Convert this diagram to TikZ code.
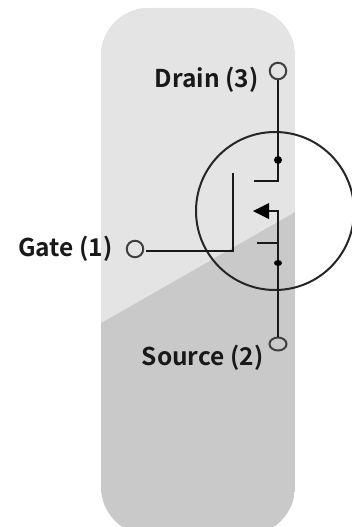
\documentclass[tikz,border=0pt]{standalone}
\usetikzlibrary{shapes.geometric}
\usepackage{fontspec}
\setmainfont{Noto Sans CJK SC}[BoldFont={Noto Sans CJK SC Bold}]
\definecolor{upg}{HTML}{E4E4E4}
\definecolor{lowg}{HTML}{C9C9C9}
\begin{document}
\begin{tikzpicture}[x=1pt,y=-1pt,
  wire/.style={line width=2.3pt,draw=black!90,line cap=butt},
  term/.style={circle,draw=black!75,line width=2pt,inner sep=0pt,minimum size=16.5pt},
  lab/.style={font=\fontsize{24.5}{28}\selectfont\bfseries,text=black!90,inner sep=0pt,anchor=base east},
  junction/.style={ellipse,fill=black,inner sep=0pt,minimum width=8pt,minimum height=8pt}]
\useasboundingbox (0,0) rectangle (351,527);
\begin{scope}
  \clip[rounded corners=48pt] (101,8) rectangle (295,535);
  \fill[lowg] (101,8) rectangle (295,535);
  \fill[upg] (101,8) -- (295,8) -- (295,212) -- (101,323) -- cycle;
\end{scope}
\node[draw=black!85,line width=2pt,circle,inner sep=0pt,minimum size=158pt] (body) at (275,211) {};
\node[term] (d) at (278,71) {};
\node[term] (g) at (135,249) {};
\node[term,ellipse,minimum width=17pt,minimum height=13pt] (s) at (278,344) {};
\coordinate (dc) at (278,181);
\coordinate (de) at (254,181);
\coordinate (sc) at (278,211);
\coordinate (se) at (262,211);
\coordinate (gc) at (233,251);
\coordinate (gt) at (233,173);
\coordinate (gl) at (146,251);
\coordinate (st) at (278,243);
\coordinate (ste) at (257,243);
\draw[wire] (d) -- (dc) -- (de);
\draw[wire] (s) -- (sc) -- (se);
\draw[wire] (gl) -- (gc) -- (gt);
\draw[wire] (st) -- (ste);
\node[junction] (j1) at (278,160) {};
\node[junction,minimum height=6pt] (j2) at (278,263) {};
\fill[black] (253,211) -- (269,203) -- (269,219) -- cycle;
\node[lab] (dl) at (258.5,87) {Drain (3)};
\node[lab] (gla) at (112.5,256) {Gate (1)};
\node[lab] (sl) at (263.5,365) {Source (2)};
\end{tikzpicture}
\end{document}
